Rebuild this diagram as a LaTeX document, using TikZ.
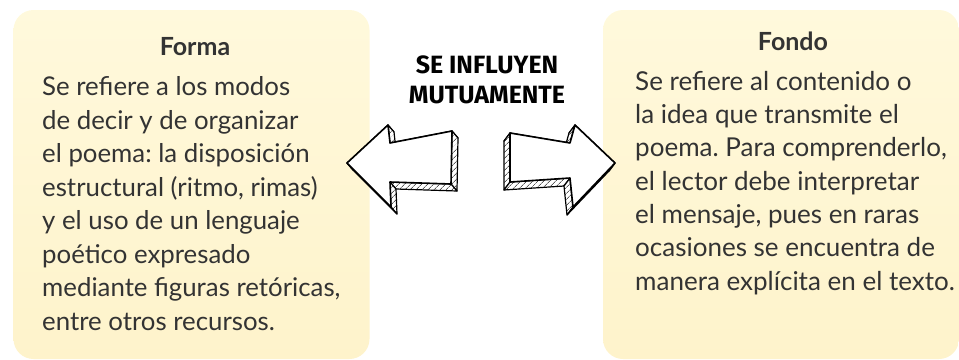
\documentclass[tikz,border=0pt]{standalone}
\usepackage{fontspec}
\setmainfont{Lato}
\newfontfamily\handfont{Fira Sans}
\usetikzlibrary{patterns.meta}
\frenchspacing
\definecolor{cardtop}{HTML}{FFF9DC}
\definecolor{cardbot}{HTML}{FEF3CB}
\definecolor{ink}{HTML}{333333}
\begin{document}
\begin{tikzpicture}[
    x=1pt, y=-1pt,
    card/.style={rectangle, rounded corners=20pt, top color=cardtop, bottom color=cardbot, draw=none, minimum width=356pt, minimum height=349pt, inner sep=0pt},
    cardtitle/.style={anchor=base, inner sep=0pt, text=ink, font=\fontsize{25}{28}\selectfont\bfseries},
    cardtext/.style={anchor=base west, inner sep=0pt, align=left, text=ink},
    motto/.style={anchor=base, inner sep=0pt, text=black, font=\handfont\fontsize{25}{30}\selectfont\bfseries},
    side/.style={draw=black, line width=1.2pt, line join=round, preaction={fill=white}, pattern={Lines[angle=45, distance=4pt, line width=0.5pt]}},
    face/.style={draw=black, fill=white, line width=1.6pt, line join=round}
]
    \useasboundingbox (0,0) rectangle (959,359);

    % Cards
    \node[card] (forma) at (191.5,184.5) {};
    \node[card] (fondo) at (781,184.5) {};

    % Titles
    \node[cardtitle] (formaTit) at (195,55) {Forma};
    \node[cardtitle] (fondoTit) at (793,50) {Fondo};

    % Texts (anchored at the last line)
    \node[cardtext, font=\fontsize{25.8}{33.5}\selectfont] (formaTxt) at (42,330) {Se refiere a los modos\\
        de decir y de organizar\\
        el poema: la disposición\\
        estructural (ritmo, rimas)\\
        y el uso de un lenguaje\\
        poético expresado\\
        mediante figuras retóricas,\\
        entre otros recursos.};
    \node[cardtext, font=\fontsize{26}{33.3}\selectfont] (fondoTxt) at (635,290) {Se refiere al contenido o\\
        la idea que transmite el\\
        poema. Para comprenderlo,\\
        el lector debe interpretar\\
        el mensaje, pues en raras\\
        ocasiones se encuentra de\\
        manera explícita en el texto.};

    % Middle label
    \node[motto] (motto1) at (487,73) {SE INFLUYEN};
    \node[motto] (motto2) at (487,103) {MUTUAMENTE};

    % Left arrow
    \coordinate (lT) at (347,163);
    \coordinate (lA) at (388,125);
    \coordinate (lB) at (390,143);
    \coordinate (lC) at (452,131);
    \coordinate (lD) at (451,184);
    \coordinate (lE) at (390,182);
    \coordinate (lF) at (391,207);
    \foreach \a/\b in {lT/lA, lA/lB, lB/lC, lC/lD, lD/lE, lE/lF, lF/lT}
        \draw[side] (\a) -- (\b) -- ([shift={(6,7)}]\b) -- ([shift={(6,7)}]\a) -- cycle;
    \draw[face] (lT) -- (lA) -- (lB) -- (lC) -- (lD) -- (lE) -- (lF) -- cycle;

    % Right arrow
    \coordinate (rT) at (615,163);
    \coordinate (rA) at (575,125);
    \coordinate (rB) at (570,143);
    \coordinate (rC) at (510,133);
    \coordinate (rD) at (510,182);
    \coordinate (rE) at (570,178);
    \coordinate (rF) at (573,207);
    \foreach \a/\b in {rT/rA, rA/rB, rB/rC, rC/rD, rD/rE, rE/rF, rF/rT}
        \draw[side] (\a) -- (\b) -- ([shift={(-6,8)}]\b) -- ([shift={(-6,8)}]\a) -- cycle;
    \draw[face] (rT) -- (rA) -- (rB) -- (rC) -- (rD) -- (rE) -- (rF) -- cycle;
\end{tikzpicture}
\end{document}
